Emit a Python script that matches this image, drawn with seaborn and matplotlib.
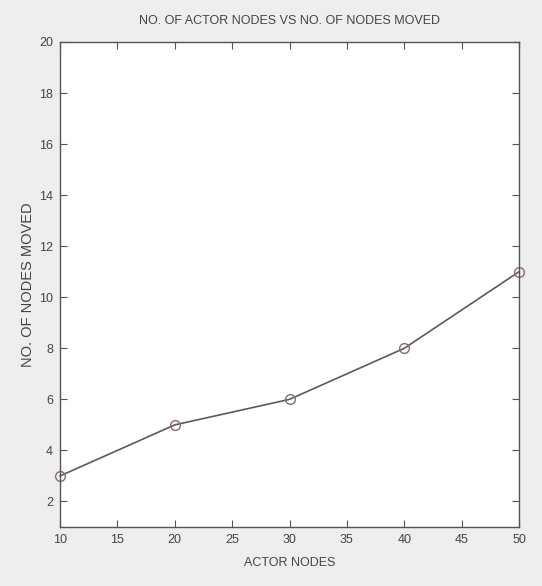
import matplotlib
matplotlib.use("Agg")
import matplotlib.pyplot as plt
import seaborn as sns
import pandas as pd

actor_nodes = [10, 20, 30, 40, 50]
nodes_moved = [3, 5, 6, 8, 11]
x_ticks = [10, 15, 20, 25, 30, 35, 40, 45, 50]
y_ticks = [2, 4, 6, 8, 10, 12, 14, 16, 18, 20]

sns.set_theme(style="white")
plt.rcParams['font.family'] = ['Liberation Sans', 'DejaVu Sans']

df = pd.DataFrame({"x": actor_nodes, "y": nodes_moved})

fig = plt.figure(figsize=(5.42, 5.86), dpi=100, facecolor="#eeeeee")
ax = fig.add_axes([60/542, 59/586, 459/542, 485/586])
ax.set_facecolor("white")

sns.lineplot(data=df, x="x", y="y", ax=ax, color="#5a5a5a", linewidth=1.2,
             marker="o", markersize=7, markerfacecolor="none",
             markeredgecolor="#8a6a6a", markeredgewidth=1.0)
for ln in ax.lines:
    ln.set_clip_on(False)

ax.set_xlim(10, 50)
ax.set_ylim(1, 20)
ax.set_xticks(x_ticks)
ax.set_yticks(y_ticks)
ax.tick_params(direction="in", length=5, width=0.8, colors="#555555",
               labelcolor="#444444", labelsize=9, top=True, right=True,
               bottom=True, left=True, labeltop=False, labelright=False,
               pad=5)
for s in ax.spines.values():
    s.set_color("#555555")
    s.set_linewidth(1.0)

ax.set_title("NO. OF ACTOR NODES VS NO. OF NODES MOVED", fontsize=9,
             color="#444444", pad=13)
ax.set_xlabel("ACTOR NODES", fontsize=9, color="#444444", labelpad=8)
ax.set_ylabel("NO. OF NODES MOVED", fontsize=10.5, color="#444444", labelpad=3)

fig.savefig("out.png", dpi=100, facecolor=fig.get_facecolor())
